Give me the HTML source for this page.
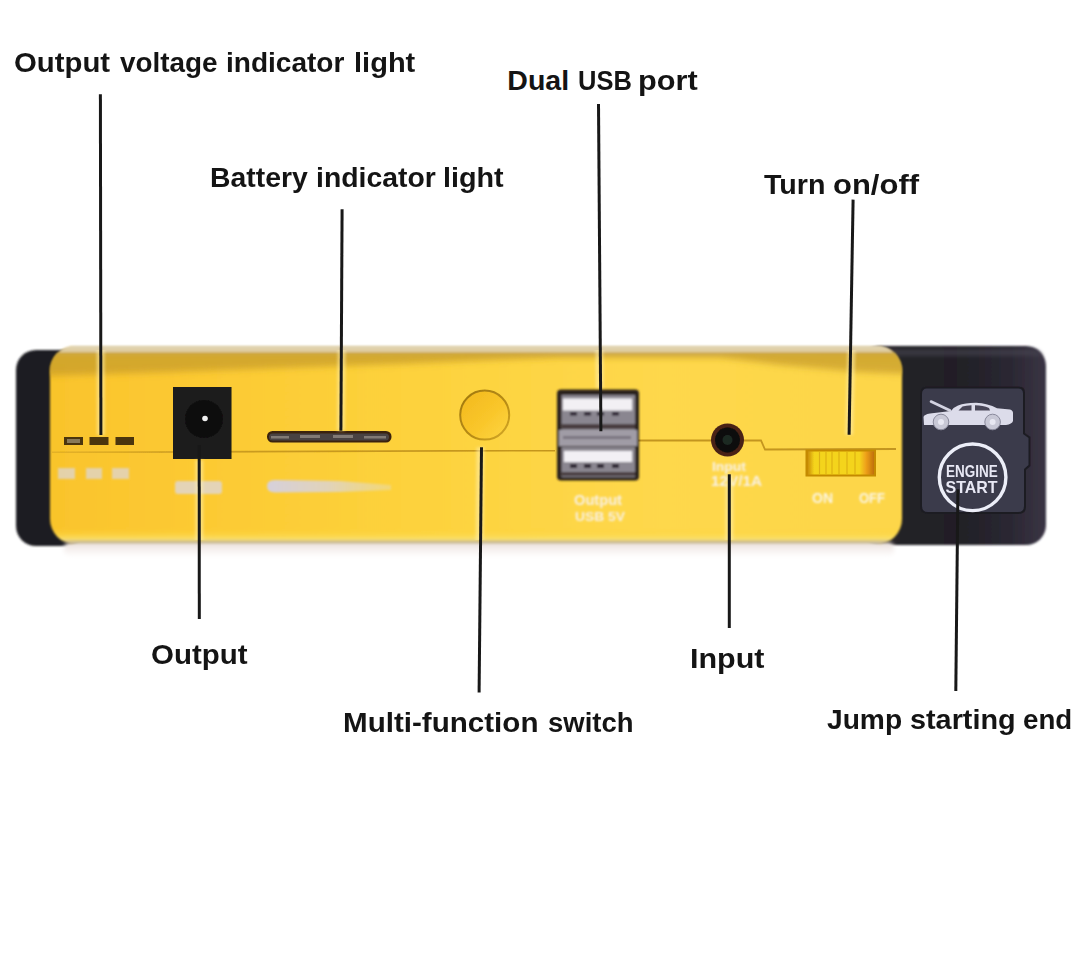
<!DOCTYPE html>
<html><head><meta charset="utf-8">
<style>
html,body{margin:0;padding:0;background:#fff;}
body{width:1080px;height:957px;position:relative;overflow:hidden;font-family:"Liberation Sans",sans-serif;}
.lb{position:absolute;font-weight:bold;font-size:28.5px;line-height:28.5px;color:#141414;white-space:nowrap;transform-origin:0 0;}
.ln{position:absolute;width:3px;background:#151515;}
svg{position:absolute;left:0;top:0;}
</style></head><body>
<svg width="1080" height="957" viewBox="0 0 1080 957">
  <defs>
    <filter id="b1" x="-5%" y="-20%" width="110%" height="140%"><feGaussianBlur stdDeviation="1.2"/></filter>
    <filter id="b2" x="-20%" y="-20%" width="140%" height="140%"><feGaussianBlur stdDeviation="0.7"/></filter>
    <filter id="b3" x="-20%" y="-50%" width="140%" height="200%"><feGaussianBlur stdDeviation="2"/></filter>
    <linearGradient id="yh" x1="50" y1="0" x2="902" y2="0" gradientUnits="userSpaceOnUse">
      <stop offset="0" stop-color="#f9c42c"/>
      <stop offset="0.15" stop-color="#fcc932"/>
      <stop offset="0.42" stop-color="#fdd23c"/>
      <stop offset="0.72" stop-color="#fed84c"/>
      <stop offset="1" stop-color="#fdd648"/>
    </linearGradient>
    <linearGradient id="ybody" x1="0" y1="346" x2="0" y2="544" gradientUnits="userSpaceOnUse">
      <stop offset="0" stop-color="#e8dfca"/>
      <stop offset="0.02" stop-color="#dccaa0"/>
      <stop offset="0.04" stop-color="#d8b860" stop-opacity="0.9"/>
      <stop offset="0.06" stop-color="#eec43a" stop-opacity="0.4"/>
      <stop offset="0.09" stop-color="#fbce34" stop-opacity="0"/>
      <stop offset="0.919" stop-color="#fcd034" stop-opacity="0"/>
      <stop offset="0.955" stop-color="#fcdc55" stop-opacity="0.5"/>
      <stop offset="0.975" stop-color="#f8e070" stop-opacity="0.9"/>
      <stop offset="0.99" stop-color="#c8b890"/>
      <stop offset="1" stop-color="#d8ccb8"/>
    </linearGradient>
    <clipPath id="bodyclip"><rect x="50" y="346" width="852" height="198" rx="25"/></clipPath>
    <filter id="b4" x="-5%" y="-50%" width="110%" height="200%"><feGaussianBlur stdDeviation="3"/></filter>
    <linearGradient id="refl" x1="0" y1="0" x2="0" y2="1">
      <stop offset="0" stop-color="#e0d6cc"/>
      <stop offset="0.3" stop-color="#f2eae8"/>
      <stop offset="1" stop-color="#ffffff"/>
    </linearGradient>
    <linearGradient id="capR" x1="860" y1="0" x2="1046" y2="0" gradientUnits="userSpaceOnUse">
      <stop offset="0" stop-color="#28262a"/>
      <stop offset="0.5" stop-color="#201f25"/>
      <stop offset="0.8" stop-color="#2a2732"/>
      <stop offset="1" stop-color="#3a3444"/>
    </linearGradient>
  </defs>
  <!-- left black cap -->
  <rect x="16" y="350" width="70" height="196" rx="20" fill="#1f1e24" filter="url(#b1)"/>
  <!-- right black cap -->
  <rect x="860" y="346" width="186" height="199" rx="20" fill="url(#capR)" filter="url(#b1)"/>
  <path d="M880 349 L1030 349 Q1040 350 1043 356 L880 356 Z" fill="#4a4652" opacity="0.6" filter="url(#b3)"/>
  <!-- yellow body -->
  <rect x="64" y="542" width="830" height="15" rx="6" fill="url(#refl)" filter="url(#b3)"/>
  <g filter="url(#b1)"><rect x="50" y="346" width="852" height="198" rx="25" fill="url(#yh)"/>
  <rect x="50" y="346" width="852" height="198" rx="25" fill="url(#ybody)"/></g>
  <g filter="url(#b1)"><g clip-path="url(#bodyclip)">
    <path d="M40 351 L910 351 L910 374 L860 372 L780 365 L720 357 L560 357 L400 364 L200 371 L40 376 Z" fill="#c49a2c" opacity="0.7" filter="url(#b4)"/>
    <path d="M40 344 L910 344 L910 352 L40 352 Z" fill="#e2d4b0" opacity="0.75"/>
  </g></g>
  <!-- seam -->
  <defs><linearGradient id="seamg" x1="52" y1="0" x2="555" y2="0" gradientUnits="userSpaceOnUse"><stop offset="0" stop-color="#bd8e1a" stop-opacity="0.35"/><stop offset="0.4" stop-color="#bd8e1a" stop-opacity="0.8"/><stop offset="1" stop-color="#bd8e1a" stop-opacity="0.9"/></linearGradient></defs>
  <path d="M52 452.5 L555 450.5" stroke="url(#seamg)" stroke-width="1.8" fill="none" filter="url(#b2)"/>
  <path d="M638 440.5 L761 440.5 L765 449.5 L896 449" stroke="#bd8e1a" stroke-width="1.8" fill="none" opacity="0.9" filter="url(#b2)"/>
  <!-- voltage LEDs -->
  <g filter="url(#b2)">
    <rect x="64" y="437" width="19" height="8" fill="#4b3410"/>
    <rect x="89.5" y="437" width="19" height="8" fill="#4b3410"/>
    <rect x="115.5" y="437" width="18.5" height="8" fill="#4b3410"/>
    <rect x="67" y="439" width="13" height="4" fill="#8a7a58"/>
  </g>
  <g fill="#dcd8e0" opacity="0.7" filter="url(#b1)">
    <rect x="58" y="468" width="17" height="11"/>
    <rect x="86" y="468" width="16" height="11"/>
    <rect x="112" y="468" width="17" height="11"/>
  </g>
  <!-- output jack -->
  <rect x="173" y="387" width="58.5" height="72" fill="#1d1a1c" filter="url(#b2)"/>
  <circle cx="204" cy="419" r="19" fill="#0c0a0b" filter="url(#b2)"/>
  <circle cx="205" cy="418.5" r="2.8" fill="#f0f0f0" filter="url(#b2)"/>
  <rect x="175" y="481" width="47" height="13" rx="3" fill="#dcd8e4" opacity="0.75" filter="url(#b1)"/>
  <!-- battery strip -->
  <defs>
    <linearGradient id="gbar" x1="0" y1="0" x2="1" y2="0">
      <stop offset="0" stop-color="#d4d0e4" stop-opacity="0.95"/>
      <stop offset="0.5" stop-color="#dcd4d0" stop-opacity="0.85"/>
      <stop offset="1" stop-color="#e8dcb0" stop-opacity="0.5"/>
    </linearGradient>
  </defs>
  <g filter="url(#b2)">
    <rect x="267" y="431" width="124.5" height="11.5" rx="5.5" fill="#3a2410"/>
    <rect x="269" y="433.5" width="120" height="7" rx="3.5" fill="#4a4242"/>
    <g fill="#a8a098" opacity="0.6">
      <rect x="271" y="436" width="18" height="2.5"/>
      <rect x="300" y="435" width="20" height="3"/>
      <rect x="333" y="435" width="20" height="3"/>
      <rect x="364" y="436" width="22" height="2.5"/>
    </g>
  </g>
  <path d="M267 486 Q267 480 275 480 L340 481 L391 485 L391 490 L340 492 L275 492.5 Q267 492.5 267 486 Z" fill="url(#gbar)" filter="url(#b1)"/>
  <!-- button -->
  <defs><linearGradient id="btns" x1="0" y1="0" x2="1" y2="1"><stop offset="0" stop-color="#a07810"/><stop offset="0.6" stop-color="#b88c14"/><stop offset="1" stop-color="#d8ac28"/></linearGradient><linearGradient id="btn" x1="0" y1="0" x2="1" y2="1">
    <stop offset="0" stop-color="#f2b81e"/><stop offset="0.55" stop-color="#f9c62a"/><stop offset="1" stop-color="#fdd644"/></linearGradient></defs>
  <circle cx="484.7" cy="415.1" r="24.5" fill="url(#btn)" stroke="url(#btns)" stroke-width="2" filter="url(#b2)"/>
  <!-- USB -->
  <g filter="url(#b1)">
    <rect x="557" y="389.5" width="82" height="91" rx="4" fill="#2b211d"/>
    <rect x="561.5" y="395" width="73.5" height="35" fill="#8a8690"/>
    <rect x="563" y="398.5" width="69" height="12" fill="#f2f0f4"/>
    <rect x="570" y="412" width="7" height="3.5" fill="#2a2030"/>
    <rect x="584" y="412" width="7" height="3.5" fill="#2a2030"/>
    <rect x="597" y="412" width="7" height="3.5" fill="#2a2030"/>
    <rect x="612" y="412" width="7" height="3.5" fill="#2a2030"/>
    <rect x="561.5" y="424" width="73.5" height="5" fill="#4a3e40"/>
    <rect x="559" y="430" width="78" height="16" fill="#a09ca6"/>
    <rect x="563" y="436" width="68" height="3" fill="#6a6470" opacity="0.7"/>
    <rect x="561.5" y="447" width="73.5" height="30" fill="#8a8690"/>
    <rect x="564" y="451" width="68" height="11" fill="#f2f0f4"/>
    <rect x="570" y="464" width="7" height="4" fill="#2a2030"/>
    <rect x="584" y="464" width="7" height="4" fill="#2a2030"/>
    <rect x="597" y="464" width="7" height="4" fill="#2a2030"/>
    <rect x="612" y="464" width="7" height="4" fill="#2a2030"/>
    <rect x="561.5" y="472" width="73.5" height="4" fill="#4a3e40"/>
  </g>
  <g fill="#f8f4f8" opacity="0.88" filter="url(#b1)" font-family="Liberation Sans" font-weight="bold">
    <text x="574" y="505" font-size="14" textLength="48" lengthAdjust="spacingAndGlyphs">Output</text>
    <text x="575" y="521" font-size="13" textLength="50" lengthAdjust="spacingAndGlyphs">USB 5V</text>
  </g>
  <!-- input jack -->
  <circle cx="727.5" cy="440" r="16.5" fill="#4a2418" filter="url(#b2)"/>
  <circle cx="727.5" cy="440" r="12.5" fill="#0e0e0e" filter="url(#b2)"/>
  <circle cx="727.5" cy="440" r="5" fill="#1e2a24" filter="url(#b2)"/>
  <g fill="#f8f4f6" opacity="0.92" filter="url(#b1)" font-family="Liberation Sans" font-weight="bold">
    <text x="712" y="471" font-size="12" textLength="34" lengthAdjust="spacingAndGlyphs">Input</text>
    <text x="711" y="486" font-size="14" textLength="51" lengthAdjust="spacingAndGlyphs">12V/1A</text>
  </g>
  <!-- switch -->
  <defs>
    <linearGradient id="sw" x1="0" y1="0" x2="1" y2="0">
      <stop offset="0" stop-color="#c88a04"/>
      <stop offset="0.1" stop-color="#f4d41c"/>
      <stop offset="0.78" stop-color="#f4d41c"/>
      <stop offset="0.88" stop-color="#eea01a"/>
      <stop offset="1" stop-color="#c07008"/>
    </linearGradient>
  </defs>
  <g filter="url(#b2)">
    <rect x="805.5" y="449.5" width="70.5" height="27" fill="#c48a06"/>
    <rect x="807.5" y="451.5" width="66.5" height="23" fill="url(#sw)"/>
    <g stroke="#d8a810" stroke-width="1.2" opacity="0.8">
      <line x1="819.5" y1="452" x2="819.5" y2="474"/>
      <line x1="826" y1="452" x2="826" y2="474"/>
      <line x1="832" y1="452" x2="832" y2="474"/>
      <line x1="839" y1="452" x2="839" y2="474"/>
      <line x1="847" y1="452" x2="847" y2="474"/>
      <line x1="855" y1="452" x2="855" y2="474"/>
    </g>
  </g>
  <g fill="#fbf8f2" opacity="0.92" filter="url(#b1)" font-family="Liberation Sans" font-weight="bold">
    <text x="812" y="502.5" font-size="14" textLength="21" lengthAdjust="spacingAndGlyphs">ON</text>
    <text x="859" y="503" font-size="14" textLength="26" lengthAdjust="spacingAndGlyphs">OFF</text>
  </g>
  <!-- engine start card -->
  <path d="M920 393 Q920 386.5 926 386.5 L1019 386.5 Q1025 386.5 1025 392.5 L1025 433 L1030.5 437 L1030.5 466 L1026 470 L1026 507 Q1026 514 1019 514 L927 514 Q920 514 920 507 Z" fill="#1e1c24" filter="url(#b2)"/>
  <path d="M922 394 Q922 388.5 927 388.5 L1018 388.5 Q1023 388.5 1023 393.5 L1023 434 L1028.5 438 L1028.5 465 L1024 469 L1024 506 Q1024 512 1018 512 L928 512 Q922 512 922 506 Z" fill="#3a3a4c" filter="url(#b2)"/>
  <!-- car -->
  <g filter="url(#b2)">
    <path d="M924 425 L923.5 417 Q924 414.5 930 413.5 L951 411 Q954 407 958 405.5 Q965 403 976 402.8 Q988 403.5 997 408.2 L1010 409.5 Q1013 410.5 1013 413 L1013 421 Q1012 424 1006 425 Z" fill="#dcdcea"/>
    <path d="M958.5 410.5 L962.5 406.5 Q966 405.5 971.5 405.2 L971.5 410.5 Z M975 405.2 Q983 405.2 989 408 L990 410.5 L975 410.5 Z" fill="#4a4658"/>
    <line x1="931" y1="401.5" x2="950" y2="410.5" stroke="#d4d4e2" stroke-width="2.6" stroke-linecap="round"/>
    <circle cx="941" cy="422" r="7.8" fill="#c8c8d6" stroke="#8a8a9c" stroke-width="1"/>
    <circle cx="992.6" cy="422" r="7.8" fill="#c8c8d6" stroke="#8a8a9c" stroke-width="1"/>
    <circle cx="941" cy="422" r="3" fill="#e8e8f2"/>
    <circle cx="992.6" cy="422" r="3" fill="#e8e8f2"/>
  </g>
  <circle cx="972.6" cy="477.3" r="33.3" fill="none" stroke="#eceef8" stroke-width="3.4" filter="url(#b2)"/>
  <g filter="url(#b2)" fill="#e8e8f4" font-family="Liberation Sans" font-weight="bold">
    <text x="946" y="476.8" font-size="17" textLength="51.7" lengthAdjust="spacingAndGlyphs">ENGINE</text>
    <text x="945.6" y="492.5" font-size="17" textLength="52" lengthAdjust="spacingAndGlyphs">START</text>
  </g>
</svg>

<!-- lines -->
<svg width="1080" height="957" style="position:absolute;left:0;top:0">
<defs><clipPath id="bodyclip2"><rect x="50" y="350" width="852" height="190" rx="20"/></clipPath><filter id="hb" x="-50%" y="-5%" width="200%" height="110%"><feGaussianBlur stdDeviation="1.5"/></filter></defs>
<g stroke="#fff0b0" stroke-width="8" opacity="0.55" filter="url(#hb)" clip-path="url(#bodyclip2)">
<line x1="100.6" y1="346" x2="100.9" y2="434.9"/>
<line x1="341.7" y1="346" x2="340.9" y2="430.7"/>
<line x1="599.3" y1="346" x2="599.8" y2="388"/>
<line x1="851.5" y1="346" x2="849.1" y2="434.8"/>
<line x1="199.3" y1="460" x2="199.3" y2="544"/>
<line x1="480.5" y1="447.2" x2="479.6" y2="544"/>
<line x1="729.3" y1="474.3" x2="729.3" y2="544"/>
</g>
<g stroke="#181818" stroke-width="3" stroke-linecap="butt">
<line x1="100.4" y1="94.2" x2="100.9" y2="434.9"/>
<line x1="342.1" y1="209.3" x2="340.9" y2="430.7"/>
<line x1="598.5" y1="104.1" x2="600.9" y2="431.3"/>
<line x1="853.1" y1="199.6" x2="849.1" y2="434.8"/>
<line x1="199.2" y1="445" x2="199.3" y2="619.1"/>
<line x1="481.5" y1="447.2" x2="479.1" y2="692.6"/>
<line x1="729.3" y1="474.3" x2="729.3" y2="628"/>
<line x1="957.9" y1="489.3" x2="955.8" y2="691.1"/>
</g></svg>

<!-- labels -->
<div class="lb" style="left:14.07px;top:48.4px;transform:scaleX(1.0293)">Output</div>
<div class="lb" style="left:120.0px;top:48.4px;transform:scaleX(0.9778)">voltage</div>
<div class="lb" style="left:226.33px;top:48.4px;transform:scaleX(0.9839)">indicator</div>
<div class="lb" style="left:353.56px;top:48.4px;transform:scaleX(1.019)">light</div>
<div class="lb" style="left:209.71px;top:163.4px;transform:scaleX(0.9948)">Battery</div>
<div class="lb" style="left:315.61px;top:163.4px;transform:scaleX(0.9949)">indicator</div>
<div class="lb" style="left:443.38px;top:163.4px;transform:scaleX(1.0086)">light</div>
<div class="lb" style="left:507.3px;top:65.6px;transform:scaleX(1.0)">Dual</div>
<div class="lb" style="left:577.71px;top:65.6px;transform:scaleX(0.8947)">USB</div>
<div class="lb" style="left:638.45px;top:65.6px;transform:scaleX(1.0774)">port</div>
<div class="lb" style="left:763.7px;top:169.8px;transform:scaleX(1.0051)">Turn</div>
<div class="lb" style="left:833.01px;top:169.8px;transform:scaleX(1.0872)">on/off</div>
<div class="lb" style="left:150.87px;top:640.1px;transform:scaleX(1.0337)">Output</div>
<div class="lb" style="left:343.32px;top:707.8px;transform:scaleX(1.0378)">Multi-function</div>
<div class="lb" style="left:548.34px;top:707.8px;transform:scaleX(0.964)">switch</div>
<div class="lb" style="left:690.06px;top:643.9px;transform:scaleX(1.0701)">Input</div>
<div class="lb" style="left:826.81px;top:704.8px;transform:scaleX(0.9878)">Jump</div>
<div class="lb" style="left:909.69px;top:704.8px;transform:scaleX(1.0108)">starting</div>
<div class="lb" style="left:1022.63px;top:704.8px;transform:scaleX(0.9708)">end</div>
</body></html>
